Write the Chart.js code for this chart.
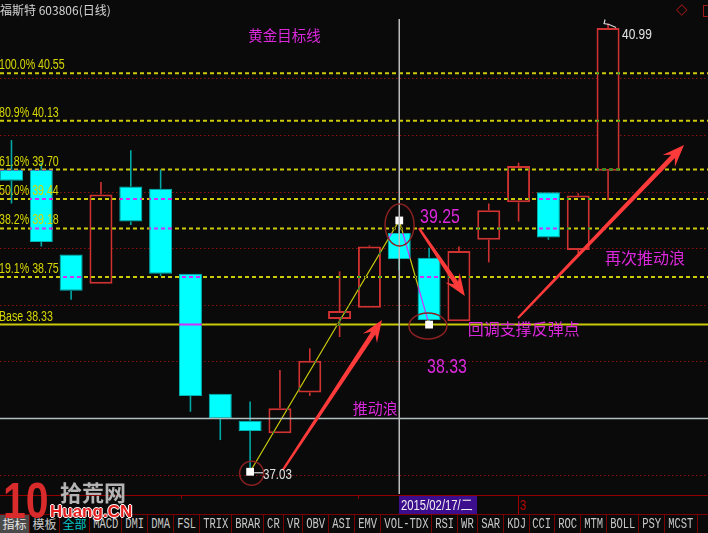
<!DOCTYPE html>
<html><head><meta charset="utf-8">
<script src="https://cdn.jsdelivr.net/npm/chart.js@4.4.1/dist/chart.umd.min.js"></script>
<style>
html,body{margin:0;padding:0;background:#0a0a0a;overflow:hidden;}
#wrap{position:relative;width:708px;height:533px;background:#0a0a0a;overflow:hidden;font-family:'Liberation Sans',Arial,sans-serif;}
#c{position:absolute;left:0;top:0;}
.lbl{position:absolute;white-space:nowrap;line-height:1;}
.tab{position:absolute;top:515px;height:18px;border-right:1px solid #7a0000;display:flex;justify-content:center;align-items:center;overflow:visible;color:#c8c8c8;box-sizing:border-box;}
.tab span{display:inline-block;white-space:nowrap;font-family:'Liberation Mono','DejaVu Sans Mono',monospace;font-size:14px;transform:scaleX(0.75);line-height:1;}
.tab span.cjk{font-family:'Noto Sans CJK SC',sans-serif;font-size:12px;transform:none;}
</style></head>
<body><div id="wrap"><canvas id="c" width="708" height="494"></canvas></div>
<script>
// ---- data ----
const categories = ['01/29','01/30','02/02','02/03','02/04','02/05','02/06','02/09','02/10','02/11','02/12','02/13','02/16','02/17','02/25','02/26','02/27','03/02','03/03','03/04','03/05'];
const opens  = [39.70,39.70,38.95,38.69,39.55,39.53,38.78,37.72,37.48,37.37,37.73,38.38,38.48,39.14,38.92,38.36,39.08,39.41,39.50,38.99,39.69];
const highs  = [39.96,39.76,38.95,39.59,39.87,39.70,38.78,37.72,37.65,37.93,38.12,38.80,39.03,39.25,39.01,39.02,39.40,39.76,39.50,39.49,40.99];
const lows   = [39.40,39.02,38.55,38.69,39.21,38.76,37.56,37.31,37.03,37.37,37.70,38.22,38.48,38.81,38.33,38.36,38.88,39.24,39.08,38.96,39.43];
const closes = [39.60,39.06,38.63,39.48,39.24,38.78,37.70,37.50,37.39,37.59,38.01,38.45,39.02,38.91,38.37,38.98,39.34,39.73,39.10,39.47,40.95];
const fibNames  = ['100.0%','80.9%','61.8%','50.0%','38.2%','19.1%','Base'];
const fibValues = [40.55,40.13,39.70,39.44,39.18,38.75,38.33];
const waveIdx    = [8,13,14];
const waveValues = [37.03,39.25,38.33];
const gridValues = [37.0,37.5,38.0,38.5,39.0,39.5,40.0,40.5];
const crossIdx = 13, crossValue = 37.5;
const crossDateLabel = '2015/02/17/二';
const tabNames = ['指标','模板','全部','MACD','DMI','DMA','FSL','TRIX','BRAR','CR','VR','OBV','ASI','EMV','VOL-TDX','RSI','WR','SAR','KDJ','CCI','ROC','MTM','BOLL','PSY','MCST'];

// ---- layout / style config ----
const X_MIN = -0.3845, X_MAX = 23.35, Y_MIN = 36.8336, Y_MAX = 41.1975, CROSS_TOP = 41.03;
const RED = '#d03232', CYAN = '#00ffff', BG = '#0a0a0a', FIBY = '#d4d400', MAG = '#dc28dc';

const isUp = i => closes[i] >= opens[i];
const idx = opens.map((_, i) => i);
const bodyData = idx.map(i => ({x: i, y: [Math.min(opens[i], closes[i]), Math.max(opens[i], closes[i])]}));
const upWick = idx.filter(i => highs[i] - Math.max(opens[i], closes[i]) > 0.004)
  .map(i => ({x: i, y: [Math.max(opens[i], closes[i]), highs[i]]}));
const lowWick = idx.filter(i => Math.min(opens[i], closes[i]) - lows[i] > 0.004)
  .map(i => ({x: i, y: [lows[i], Math.min(opens[i], closes[i])]}));

const datasets = [];
datasets.push({type: 'line', data: [{x: crossIdx, y: CROSS_TOP}, {x: crossIdx, y: Y_MIN}], borderColor: '#bcbcbc', borderWidth: 1.5, pointRadius: 0, order: 0});
datasets.push({type: 'line', data: [{x: X_MIN, y: crossValue}, {x: X_MAX, y: crossValue}], borderColor: '#b4c0c0', borderWidth: 1.5, pointRadius: 0, order: 0});
datasets.push({type: 'line', showLine: false, data: waveIdx.map((x, k) => ({x, y: waveValues[k]})), pointStyle: 'rect', pointRadius: 5.5, pointBackgroundColor: '#ffffff', pointBorderWidth: 0, order: 1});
datasets.push({type: 'line', data: waveIdx.map((x, k) => ({x, y: waveValues[k]})), borderColor: FIBY, borderWidth: 1.2, pointRadius: 0, blend: 'difference', order: 2});
fibValues.forEach((v, k) => {
  datasets.push({type: 'line', data: [{x: X_MIN, y: v}, {x: X_MAX, y: v}], borderColor: FIBY, borderWidth: 2,
    borderDash: k === fibValues.length - 1 ? [] : [4, 3], pointRadius: 0, blend: 'difference', order: 3});
});
datasets.push({type: 'bar', data: bodyData, barThickness: 23, grouped: false, borderSkipped: false, inflateAmount: 0,
  backgroundColor: c => isUp(c.raw.x) ? BG : CYAN,
  borderColor: c => isUp(c.raw.x) ? RED : '#00b4b4',
  borderWidth: c => isUp(c.raw.x) ? 2 : 1, order: 8});
[upWick, lowWick].forEach(w => datasets.push({type: 'bar', data: w, barThickness: 1.6, grouped: false, borderWidth: 0, inflateAmount: 0,
  backgroundColor: c => isUp(c.raw.x) ? RED : '#00a8a8', order: 9}));

const bgPlugin = {id: 'bg', beforeDraw(ch) { const g = ch.ctx; g.save(); g.fillStyle = BG; g.fillRect(0, 0, ch.width, ch.height); g.restore(); }};
const blendPlugin = {
  id: 'blend',
  beforeDatasetDraw(ch, a) { const d = ch.data.datasets[a.index]; if (d.blend) { ch.ctx.save(); ch.ctx.globalCompositeOperation = d.blend; } },
  afterDatasetDraw(ch, a) { const d = ch.data.datasets[a.index]; if (d.blend) ch.ctx.restore(); }
};
// annotations (data coords)
const ellipses = [{i: 8.05, p: 37.017, rx: 12, ry: 12}, {i: 13.01, p: 39.21, rx: 14.5, ry: 21}, {i: 13.96, p: 38.318, rx: 19, ry: 13}];
const arrows = [{i1: 9.10, p1: 37.046, i2: 12.42, p2: 38.371}, {i1: 13.66, p1: 39.183, i2: 15.20, p2: 38.582}, {i1: 16.98, p1: 38.389, i2: 22.546, p2: 39.917}];
function drawArrow(g, x1, y1, x2, y2) {
  const ang = Math.atan2(y2 - y1, x2 - x1), len = Math.hypot(x2 - x1, y2 - y1);
  const hl = 22, hw = 17, w0 = 2.2, w1 = 5;
  g.save(); g.translate(x1, y1); g.rotate(ang); g.fillStyle = '#ff3a3a'; g.beginPath();
  g.moveTo(0, -w0 / 2); g.lineTo(len - hl * 0.72, -w1 / 2); g.lineTo(len - hl, -hw / 2); g.lineTo(len, 0);
  g.lineTo(len - hl, hw / 2); g.lineTo(len - hl * 0.72, w1 / 2); g.lineTo(0, w0 / 2); g.closePath(); g.fill(); g.restore();
}
const annoPlugin = {
  id: 'anno',
  afterDatasetsDraw(ch) {
    const g = ch.ctx, xs = ch.scales.x, ys = ch.scales.y;
    g.save();
    g.strokeStyle = '#8a2020'; g.lineWidth = 1.5;
    ellipses.forEach(e => { g.beginPath(); g.ellipse(xs.getPixelForValue(e.i), ys.getPixelForValue(e.p), e.rx, e.ry, 0, 0, Math.PI * 2); g.stroke(); });
    arrows.forEach(a => drawArrow(g, xs.getPixelForValue(a.i1), ys.getPixelForValue(a.p1), xs.getPixelForValue(a.i2), ys.getPixelForValue(a.p2)));
    // leader lines to the high / low labels
    g.strokeStyle = '#d8d8d8'; g.lineWidth = 1.2;
    const lx = xs.getPixelForValue(8), ly = ys.getPixelForValue(37.03);
    g.beginPath(); g.moveTo(lx + 4, ly + 1); g.lineTo(lx + 13, ly + 1); g.stroke();
    const hx = xs.getPixelForValue(20), hy = ys.getPixelForValue(40.99);
    g.beginPath(); g.moveTo(hx - 3, hy - 4); g.lineTo(hx - 4, hy); g.lineTo(hx + 1, hy + 1); g.lineTo(hx + 8, hy + 4); g.stroke();
    g.restore();
  }
};

const chart = new Chart(document.getElementById('c'), {
  type: 'bar',
  data: {datasets},
  options: {
    responsive: false, animation: false, events: [],
    layout: {padding: 0, autoPadding: false},
    plugins: {legend: {display: false}, tooltip: {enabled: false}},
    scales: {
      x: {type: 'linear', min: X_MIN, max: X_MAX, offset: false, display: false},
      y: {type: 'linear', min: Y_MIN, max: Y_MAX, beginAtZero: false, display: true,
        afterBuildTicks: s => { s.ticks = gridValues.map(v => ({value: v})); },
        ticks: {display: false},
        border: {display: false, dash: [1.5, 2.5]},
        grid: {drawTicks: false, tickLength: 0, lineWidth: 1, color: c => (c.tick && Math.abs(c.tick.value - crossValue) < 1e-6) ? 'rgba(0,0,0,0)' : '#8a1010'}}
    }
  },
  plugins: [bgPlugin, blendPlugin, annoPlugin]
});

// ---- real text overlays ----
const wrap = document.getElementById('wrap');
const xs = chart.scales.x, ys = chart.scales.y;
function addLabel(o) {
  const d = document.createElement('div'); d.className = 'lbl'; d.textContent = o.text;
  d.style.left = o.left + 'px'; d.style.top = o.top + 'px'; d.style.color = o.color; d.style.fontSize = o.size + 'px';
  if (o.font) d.style.fontFamily = o.font; if (o.weight) d.style.fontWeight = o.weight;
  d.style.transformOrigin = '0 50%';
  d.style.transform = (o.mid ? 'translateY(-50%) ' : '') + 'scaleX(' + (o.sx || 1) + ')';
  if (o.css) Object.assign(d.style, o.css);
  wrap.appendChild(d); return d;
}
const CJK = "'Noto Sans CJK SC',sans-serif";
fibValues.forEach((v, k) => addLabel({text: fibNames[k] + ' ' + v.toFixed(2), left: xs.getPixelForValue(X_MIN) - 1, top: ys.getPixelForValue(v) - 9, mid: true, color: '#d8d800', size: 14, sx: 0.76}));
const notes = [
  {text: '黄金目标线', i: 7.94, p: 40.884, size: 14.5, font: CJK, color: MAG},
  {text: '39.25', i: 13.70, p: 39.294, size: 21, sx: 0.76, color: MAG},
  {text: '38.33', i: 13.92, p: 37.969, size: 21, sx: 0.76, color: MAG},
  {text: '推动浪', i: 11.44, p: 37.598, size: 15, font: CJK, color: MAG},
  {text: '回调支撑反弹点', i: 15.30, p: 38.304, size: 16, font: CJK, color: MAG},
  {text: '再次推动浪', i: 19.90, p: 38.927, size: 16, font: CJK, color: MAG},
  {text: highs[20].toFixed(2), i: 20.46, p: 40.899, size: 15.5, sx: 0.77, color: '#e4e4e4'},
  {text: lows[8].toFixed(2), i: 8.43, p: 37.019, size: 15, sx: 0.77, color: '#e4e4e4'}
];
notes.forEach(n => addLabel({text: n.text, left: xs.getPixelForValue(n.i), top: ys.getPixelForValue(n.p), mid: true, color: n.color, size: n.size, sx: n.sx, font: n.font}));
addLabel({text: '福斯特 603806(日线)', left: 0, top: 4, color: '#d4d4d4', size: 12, font: CJK});
addLabel({text: '◇', left: 676, top: 2, color: '#a01818', size: 15, font: "'DejaVu Sans',sans-serif"});
const box = document.createElement('div');
Object.assign(box.style, {position: 'absolute', left: '703px', top: '5px', width: '9px', height: '10px', border: '1.5px solid #a01818'});
wrap.appendChild(box);

// ---- bottom strip ----
function rect(l, t, w, h, c) { const d = document.createElement('div'); Object.assign(d.style, {position: 'absolute', left: l + 'px', top: t + 'px', width: w + 'px', height: h + 'px', background: c}); wrap.appendChild(d); return d; }
rect(0, 494, 708, 39, BG);
rect(0, 494.5, 708, 1, '#900000');
rect(181, 495, 1, 4, '#900000'); rect(358, 495, 1, 4, '#900000');
const cx = xs.getPixelForValue(crossIdx);
rect(cx - 0.5, 495.5, 78, 19, '#3c0e8e');
addLabel({text: crossDateLabel, left: cx + 1.5, top: 505, mid: true, color: '#f0f0f0', size: 14.5, sx: 0.78});
rect(cx + 119, 495.5, 1, 18, '#a00000');
addLabel({text: '3', left: cx + 121, top: 505, mid: true, color: '#c00000', size: 14.5, sx: 0.78});
rect(0, 514, 708, 1, '#7a0000');
let tx = 0;
tabNames.forEach((t, k) => {
  const cjk = /[\u4e00-\u9fff]/.test(t);
  const w = cjk ? 30 : 6.3 * t.length + 7;
  const d = document.createElement('div'); d.className = 'tab';
  d.style.left = tx + 'px'; d.style.width = w + 'px';
  const s = document.createElement('span'); s.textContent = t; if (cjk) s.className = 'cjk';
  if (t === '全部') d.style.color = '#00c8c8';
  if (k === 0) { d.style.background = '#4a4a4a'; d.style.color = '#e8e8e8'; }
  d.appendChild(s); wrap.appendChild(d); tx += w;
});
// watermark
addLabel({text: '10', left: 3, top: 475.5, color: '#d92b2b', size: 50, weight: 'bold', sx: 0.82});
addLabel({text: '拾荒网', left: 60, top: 479.5, color: '#b4b4b4', size: 22, weight: 'bold', font: CJK});
addLabel({text: 'Huang.CN', left: 50, top: 503, color: '#e62020', size: 17, weight: 'bold',
  css: {textShadow: '-1px 0 #fff,1px 0 #fff,0 -1px #fff,0 1px #fff'}});
</script>
</body></html>
